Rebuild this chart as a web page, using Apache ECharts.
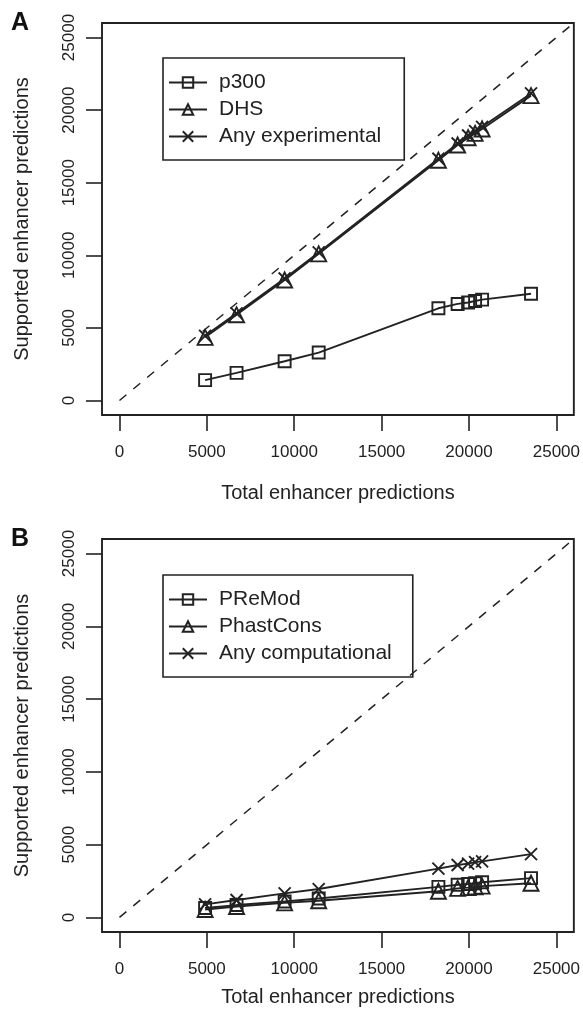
<!DOCTYPE html>
<html>
<head>
<meta charset="utf-8">
<script src="https://cdn.jsdelivr.net/npm/echarts@6/dist/echarts.min.js"></script>
<style>
html,body{margin:0;padding:0;background:#fff;}
#c{width:583px;height:1014px;}
</style>
</head>
<body>
<div id="c"></div>
<script>
// ---- data ----
const totalPredictions = [4900, 6700, 9450, 11400, 18250, 19350, 19950, 20350, 20750, 23550];
const p300 = [1400, 1900, 2700, 3300, 6350, 6650, 6750, 6850, 6950, 7350];
const dhs = [4350, 5900, 8300, 10100, 16550, 17600, 18100, 18400, 18700, 21000];
const anyExperimental = [4450, 6000, 8400, 10200, 16650, 17700, 18250, 18550, 18850, 21150];
const premod = [650, 850, 1100, 1300, 2100, 2250, 2300, 2350, 2420, 2700];
const phastcons = [550, 750, 1000, 1150, 1800, 2000, 2050, 2100, 2150, 2350];
const anyComputational = [900, 1200, 1650, 1950, 3350, 3600, 3700, 3800, 3850, 4350];
const tickValues = [0, 5000, 10000, 15000, 20000, 25000];
const diagonal = [[0, 0], [26000, 26000]];

const INK = '#222';
const FONT = '"Liberation Sans", Arial, Helvetica, sans-serif';
const pair = arr => totalPredictions.map((x, i) => [x, arr[i]]);
const XSYM = 'path://M0,0L10,10M0,10L10,0';

const grids = [
  {left: 102, width: 472, top: 23, height: 392},
  {left: 102, width: 472, top: 539, height: 393}
];

function xAxis(gi, gap) {
  return {
    type: 'value', gridIndex: gi, min: -1000, max: 26000, position: 'bottom',
    splitLine: {show: false},
    axisLine: {show: false, onZero: false},
    axisTick: {show: true, inside: false, customValues: tickValues, length: 16, lineStyle: {color: INK, width: 1.6}},
    axisLabel: {customValues: tickValues, margin: 29, fontSize: 17, color: INK, fontFamily: FONT,
      formatter: v => String(v)},
    name: 'Total enhancer predictions', nameLocation: 'middle', nameGap: gap,
    nameTextStyle: {fontSize: 20, color: INK, fontFamily: FONT}
  };
}
function yAxis(gi) {
  return {
    type: 'value', gridIndex: gi, min: -1000, max: 26000, position: 'left',
    splitLine: {show: false},
    axisLine: {show: false, onZero: false},
    axisTick: {show: true, inside: false, customValues: tickValues, length: 16, lineStyle: {color: INK, width: 1.6}},
    axisLabel: {customValues: tickValues, margin: 24, fontSize: 17, color: INK, fontFamily: FONT, rotate: 90,
      formatter: v => String(v)},
    name: 'Supported enhancer predictions', nameLocation: 'middle', nameGap: 70,
    nameTextStyle: {fontSize: 20, color: INK, fontFamily: FONT}
  };
}

function lineSeries(name, arr, gi, symbol, size) {
  return {
    name: name, type: 'line', xAxisIndex: gi, yAxisIndex: gi,
    data: pair(arr), symbol: symbol, symbolSize: size, showSymbol: true,
    lineStyle: {color: INK, width: 1.9},
    itemStyle: {color: 'rgba(255,255,255,0)', borderColor: INK, borderWidth: 1.9},
    emphasis: {disabled: true}, z: 3
  };
}
function diag(gi) {
  return {
    type: 'line', xAxisIndex: gi, yAxisIndex: gi, data: diagonal, symbol: 'none',
    lineStyle: {color: INK, width: 1.5, type: [9, 9]}, silent: true, z: 2
  };
}

function legend(data, top, padRight) {
  return {
    orient: 'vertical', left: 163, top: top, data: data,
    borderColor: INK, borderWidth: 1.6, borderRadius: 0,
    padding: [14, padRight, 13, 5], itemGap: 6, itemWidth: 38, itemHeight: 13,
    textStyle: {fontSize: 21, color: INK, fontFamily: FONT, padding: [0, 0, 0, 7]},
    selectedMode: false
  };
}

const chart = echarts.init(document.getElementById('c'), null, {renderer: 'canvas'});
chart.setOption({
  animation: false,
  backgroundColor: '#fff',
  grid: grids.map(g => Object.assign({show: true, borderColor: INK, borderWidth: 1.9, backgroundColor: 'transparent'}, g)),
  xAxis: [xAxis(0, 68), xAxis(1, 55)],
  yAxis: [yAxis(0), yAxis(1)],
  legend: [
    legend(['p300', 'DHS', 'Any experimental'], 58, 23),
    legend(['PReMod', 'PhastCons', 'Any computational'], 575, 21)
  ],
  graphic: [
    {type: 'text', left: 11, top: 11, style: {text: 'A', font: 'bold 25px ' + FONT, fill: '#111'}},
    {type: 'text', left: 11, top: 527, style: {text: 'B', font: 'bold 25px ' + FONT, fill: '#111'}}
  ],
  series: [
    diag(0),
    lineSeries('p300', p300, 0, 'rect', 12),
    lineSeries('DHS', dhs, 0, 'triangle', 15),
    lineSeries('Any experimental', anyExperimental, 0, XSYM, 12),
    diag(1),
    lineSeries('PReMod', premod, 1, 'rect', 12),
    lineSeries('PhastCons', phastcons, 1, 'triangle', 15),
    lineSeries('Any computational', anyComputational, 1, XSYM, 12)
  ]
});
</script>
</body>
</html>
